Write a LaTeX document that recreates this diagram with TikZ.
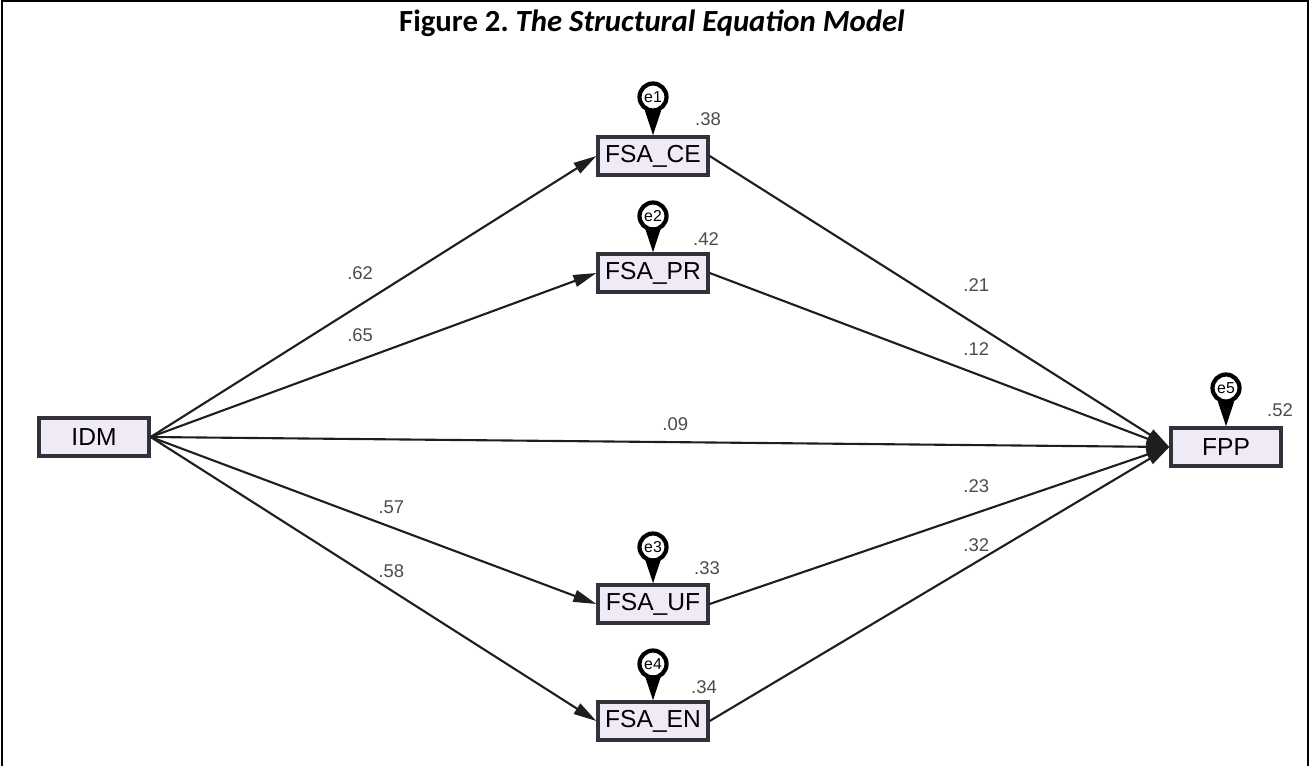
\documentclass[tikz,border=0pt]{standalone}
\usepackage{fontspec}
\setmainfont{Liberation Sans}
\newfontfamily\titlefont{Carlito}
\usetikzlibrary{arrows.meta}
\definecolor{boxFill}{RGB}{240,234,246}
\definecolor{boxLine}{RGB}{50,50,58}
\definecolor{lineCol}{RGB}{30,30,30}
\definecolor{labelCol}{RGB}{75,75,75}

\begin{document}
\begin{tikzpicture}[
    x=0.02cm, y=-0.02cm,
    >={Triangle[length=0.46cm,width=0.24cm]},
    % Observed Variable Box Style
    varBox/.style={
        draw=boxLine,
        fill=boxFill,
        line width=1.9pt,
        minimum width=2.2cm,
        minimum height=0.76cm,
        inner sep=0pt,
        font=\fontsize{14}{16}\selectfont
    },
    % Error Term Style
    errCircle/.style={
        circle,
        draw=black,
        fill=white,
        line width=2.4pt,
        minimum size=0.54cm,
        inner sep=0pt,
        font=\fontsize{9}{10}\selectfont
    },
    % Error Pointer Style
    errArrow/.style={
        -{Triangle[length=0.5cm,width=0.32cm]},
        line width=1pt,
        draw=black
    },
    % Path Arrow Style
    pathArrow/.style={
        ->,
        line width=1.2pt,
        draw=lineCol
    },
    % Coefficient Label Style
    coefLabel/.style={
        font=\fontsize{10.5}{12}\selectfont,
        text=labelCol,
        inner sep=1pt
    }
]

    % Page frame
    \useasboundingbox (0,0) rectangle (1310,766);
    \draw[line width=1.5pt] (2,766) -- (2,1) -- (1308,1) -- (1308,766);

    % Title
    \node[font=\titlefont\bfseries\fontsize{17.5}{20}\selectfont] (title) at (652,23)
        {Figure 2.~\textit{The Structural Equation Model}};

    % Observed Variables
    \node[varBox] (IDM) at (94,437) {IDM};
    \node[varBox] (FSACE) at (653,156) {FSA\_CE};
    \node[varBox] (FSAPR) at (653,273) {FSA\_PR};
    \node[varBox] (FSAUF) at (653,604) {FSA\_UF};
    \node[varBox] (FSAEN) at (653,721) {FSA\_EN};
    \node[varBox] (FPP) at (1226,447) {FPP};

    % Error Terms
    \node[errCircle] (e1) at (653,97) {e1};
    \node[errCircle] (e2) at (653,216) {e2};
    \node[errCircle] (e3) at (653,547) {e3};
    \node[errCircle] (e4) at (653,664) {e4};
    \node[errCircle] (e5) at (1226,388) {e5};

    \draw[errArrow] (e1) -- (FSACE);
    \draw[errArrow] (e2) -- (FSAPR);
    \draw[errArrow] (e3) -- (FSAUF);
    \draw[errArrow] (e4) -- (FSAEN);
    \draw[errArrow] (e5) -- (FPP);

    % Squared Multiple Correlations
    \node[coefLabel] (rCE) at (708,119) {.38};
    \node[coefLabel] (rPR) at (706,239) {.42};
    \node[coefLabel] (rUF) at (707,568) {.33};
    \node[coefLabel] (rEN) at (704,687) {.34};
    \node[coefLabel] (rFPP) at (1280,410) {.52};

    % Paths from IDM
    \draw[pathArrow] (IDM.east) -- node[coefLabel, pos=0.47, yshift=0.64cm] {.62} (FSACE.west);
    \draw[pathArrow] (IDM.east) -- node[coefLabel, pos=0.47, yshift=0.5cm] {.65} (FSAPR.west);
    \draw[pathArrow] (IDM.east) -- node[coefLabel, pos=0.515, yshift=0.36cm] {.09} (FPP.west);
    \draw[pathArrow] (IDM.east) -- node[coefLabel, pos=0.54, yshift=0.4cm] {.57} (FSAUF.west);
    \draw[pathArrow] (IDM.east) -- node[coefLabel, pos=0.54, yshift=0.38cm] {.58} (FSAEN.west);

    % Paths into FPP
    \draw[pathArrow] (FSACE.east) -- node[coefLabel, pos=0.58, yshift=0.8cm] {.21} (FPP.west);
    \draw[pathArrow] (FSAPR.east) -- node[coefLabel, pos=0.58, yshift=0.5cm] {.12} (FPP.west);
    \draw[pathArrow] (FSAUF.east) -- node[coefLabel, pos=0.58, yshift=0.54cm] {.23} (FPP.west);
    \draw[pathArrow] (FSAEN.east) -- node[coefLabel, pos=0.58, yshift=0.34cm] {.32} (FPP.west);

\end{tikzpicture}
\end{document}
